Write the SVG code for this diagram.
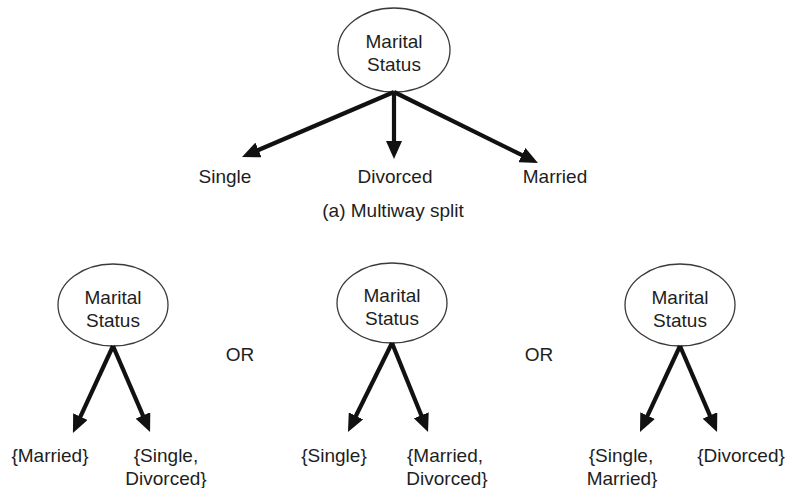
<svg xmlns="http://www.w3.org/2000/svg" width="788" height="488" viewBox="0 0 788 488">
  <style>
    .node ellipse { fill: #ffffff; stroke: #3a3a3a; stroke-width: 1.3; }
    text { font-family: "Liberation Sans", Arial, Helvetica, sans-serif; font-size: 19px; fill: #1e1e1e; text-anchor: middle; }
    .edges line { stroke: #111111; stroke-width: 4.2; marker-end: url(#head); }
  </style>
  <defs>
    <marker id="head" markerUnits="userSpaceOnUse" markerWidth="18" markerHeight="16" refX="8" refY="8" orient="auto">
      <path d="M0,0 L18,8 L0,16 Z" fill="#111111"/>
    </marker>
  </defs>
  <rect width="788" height="488" fill="#ffffff"/>

  <!-- (a) multiway split -->
  <g id="root-a" class="node">
    <ellipse cx="394" cy="50" rx="56" ry="42"/>
    <text x="394" y="48">Marital</text>
    <text x="394" y="71">Status</text>
  </g>
  <g id="leaf-single"><text x="225" y="183">Single</text></g>
  <g id="leaf-divorced"><text x="395" y="183">Divorced</text></g>
  <g id="leaf-married"><text x="555" y="183">Married</text></g>
  <g id="caption-a"><text x="393" y="217">(a) Multiway split</text></g>

  <!-- binary split 1 -->
  <g id="root-b1" class="node">
    <ellipse cx="113" cy="305" rx="55" ry="41"/>
    <text x="113" y="304">Marital</text>
    <text x="113" y="327">Status</text>
  </g>
  <g id="leaf-b1-left"><text x="50" y="462">{Married}</text></g>
  <g id="leaf-b1-right"><text x="166" y="462">{Single,</text><text x="166" y="485">Divorced}</text></g>

  <g id="or-1"><text x="240" y="361">OR</text></g>

  <!-- binary split 2 -->
  <g id="root-b2" class="node">
    <ellipse cx="392" cy="303" rx="55" ry="40"/>
    <text x="392" y="302">Marital</text>
    <text x="392" y="325">Status</text>
  </g>
  <g id="leaf-b2-left"><text x="334" y="462">{Single}</text></g>
  <g id="leaf-b2-right"><text x="445" y="462">{Married,</text><text x="447" y="485">Divorced}</text></g>

  <g id="or-2"><text x="539" y="361">OR</text></g>

  <!-- binary split 3 -->
  <g id="root-b3" class="node">
    <ellipse cx="680" cy="305" rx="55" ry="41"/>
    <text x="680" y="304">Marital</text>
    <text x="680" y="327">Status</text>
  </g>
  <g id="leaf-b3-left"><text x="621" y="462">{Single,</text><text x="622" y="485">Married}</text></g>
  <g id="leaf-b3-right"><text x="741" y="462">{Divorced}</text></g>

  <!-- connectors: each line stops 10px short; the marker carries the tip -->
  <g id="edges" class="edges">
    <line x1="394" y1="92" x2="251.2" y2="153.1"/>
    <line x1="394" y1="92" x2="394" y2="149"/>
    <line x1="394" y1="92" x2="529" y2="158.6"/>

    <line x1="113" y1="346" x2="77.1" y2="423.9"/>
    <line x1="113" y1="346" x2="146.1" y2="422.8"/>

    <line x1="392" y1="343" x2="352.4" y2="423"/>
    <line x1="392" y1="343" x2="424.3" y2="422.7"/>

    <line x1="680" y1="346" x2="644.2" y2="422.9"/>
    <line x1="680" y1="346" x2="713.1" y2="422.8"/>
  </g>
</svg>
